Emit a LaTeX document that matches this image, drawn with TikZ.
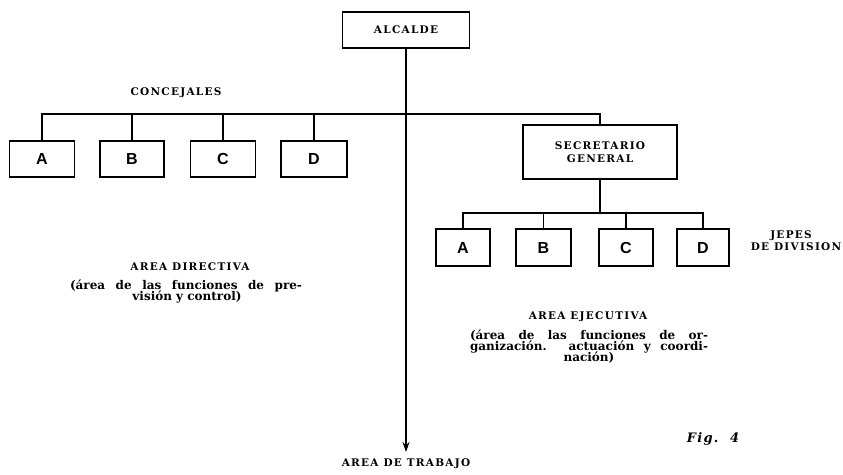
\documentclass[tikz,border=0pt]{standalone}
\usepackage{fontspec}
\setmainfont{DejaVu Serif}
\newfontfamily\capsfont[LetterSpace=12]{DejaVu Serif}
\newfontfamily\figfont[LetterSpace=10]{DejaVu Serif}
\newfontfamily\boxfont{Liberation Sans}
\usetikzlibrary{arrows.meta}

\tikzset{
  orgbox/.style={draw, line width=1.3pt, inner sep=0pt, align=center},
  letterbox/.style={orgbox, minimum height=36, font=\boxfont\bfseries\fontsize{16}{16}\selectfont},
  caption/.style={inner sep=0pt, font=\capsfont\bfseries\fontsize{10.5}{12}\selectfont},
  remark/.style={inner sep=0pt, font=\bfseries\fontsize{12}{11}\selectfont},
  link/.style={line width=1.2pt}
}

\begin{document}
\begin{tikzpicture}[x=1pt,y=1pt,yscale=-1,xscale=1]
\path[use as bounding box] (0,0) rectangle (843,474);

%Shape: Alcalde box
\node[orgbox, minimum width=127, minimum height=36, font=\capsfont\bfseries\fontsize{10.5}{12}\selectfont] (alcalde) at (406,30) {ALCALDE};

%Shape: concejal boxes
\node[letterbox, minimum width=65] (conA) at (42,159) {A};
\node[letterbox, minimum width=64] (conB) at (132,159) {B};
\node[letterbox, minimum width=65] (conC) at (223,159) {C};
\node[letterbox, minimum width=66] (conD) at (314,159) {D};

%Shape: Secretario box
\node[orgbox, minimum width=154, minimum height=54, font=\capsfont\bfseries\fontsize{10.5}{12.5}\selectfont] (secretario) at (600,152) {SECRETARIO\\GENERAL};

%Shape: jefe boxes
\node[letterbox, minimum width=54, minimum height=37] (jefA) at (463,247.5) {A};
\node[letterbox, minimum width=55, minimum height=37] (jefB) at (543.5,247.5) {B};
\node[letterbox, minimum width=54, minimum height=37] (jefC) at (626,247.5) {C};
\node[letterbox, minimum width=52, minimum height=37] (jefD) at (703,247.5) {D};

%Straight Lines: buses
\coordinate (busL) at (42,114);
\coordinate (busR) at (600,114);
\coordinate (subL) at (463,213);
\coordinate (subR) at (703,213);
\coordinate (trabajo) at (406,452);

\draw[link] (conA.north) -- (busL) -- (busR) -- (secretario.north);
\foreach \n in {conB,conC,conD}
  \draw[link] (\n.north) -- (\n.north |- busL);
\draw[link] (jefA.north) -- (subL) -- (subR) -- (jefD.north);
\foreach \n in {jefB,jefC}
  \draw[link] (\n.north) -- (\n.north |- subL);
\draw[link] (secretario.south) -- (secretario.south |- subL);

%Straight Lines: main arrow
\draw[link, -{Stealth[length=10pt,width=7pt]}] (alcalde.south) -- (trabajo);

% Text Node
\node[caption] (concejales) at (176,93) {CONCEJALES};
% Text Node
\node[caption, align=center] (jefes) at (796,241) {\hspace*{-10pt}JEPES\\DE DIVISION};
% Text Node
\node[caption] (directiva) at (190,267) {AREA DIRECTIVA};
\node[remark] (dirA) at (186,286) {\makebox[232pt][s]{(área de las funciones de pre-}};
\node[remark] (dirB) at (187,297) {visión y control)};
% Text Node
\node[caption] (ejecutiva) at (588,317) {AREA EJECUTIVA};
\node[remark] (ejeA) at (589,336) {\makebox[238pt][s]{(área de las funciones de or-}};
\node[remark] (ejeB) at (589,347) {\makebox[238pt][s]{ganización. actuación y coordi-}};
\node[remark] (ejeC) at (589,358) {nación)};
% Text Node
\node[caption, below=6pt] (area) at (trabajo) {AREA DE TRABAJO};
% Text Node
\node[inner sep=0pt, font=\figfont\bfseries\itshape\fontsize{13}{13}\selectfont] (fig) at (713,439) {Fig.\ \ 4};

\end{tikzpicture}
\end{document}
